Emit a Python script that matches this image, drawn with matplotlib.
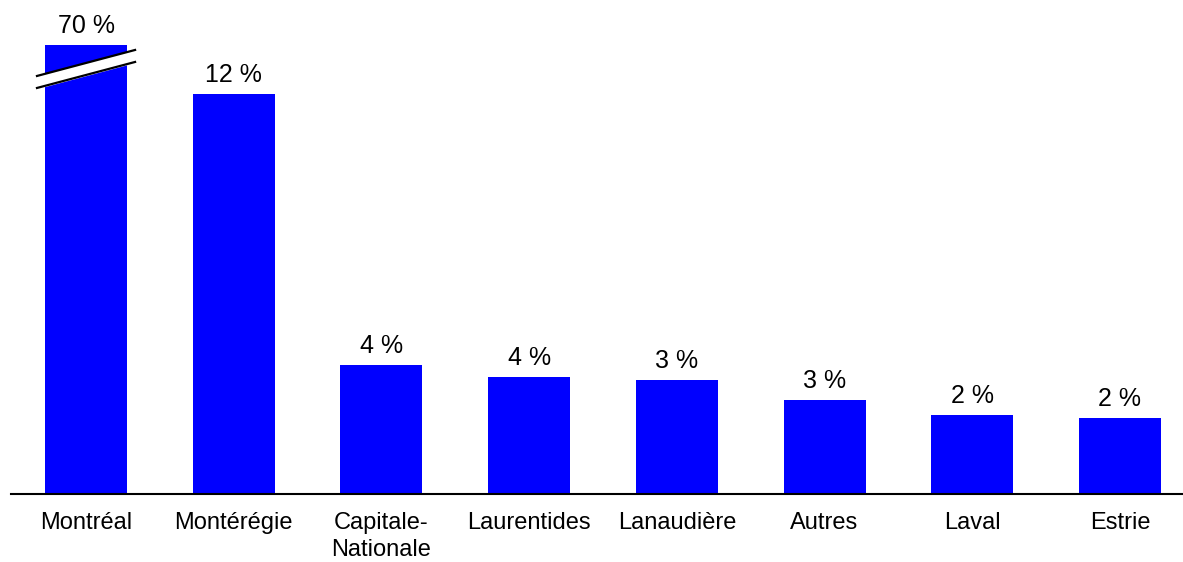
import numpy as np
import matplotlib.pyplot as plt

# Regions and share of total (bar heights, labels as printed)
regions = ["Montréal", "Montérégie", "Capitale-\nNationale", "Laurentides",
           "Lanaudière", "Autres", "Laval", "Estrie"]
shares = [70, 12.0, 3.87, 3.51, 3.42, 2.82, 2.37, 2.28]
share_labels = ["70 %", "12 %", "4 %", "4 %", "3 %", "3 %", "2 %", "2 %"]

plt.rcParams['font.family'] = ['Liberation Sans', 'DejaVu Sans']

fig = plt.figure(figsize=(11.83, 5.62), dpi=100)
ax = fig.add_axes([0.0093, 0.121, 0.9907, 0.799])

x = np.arange(len(regions))
ymax = 13.47  # axis cut, the Montréal bar is broken above it
ax.bar(x, shares, width=0.555, color="#0000FF", zorder=2)
ax.set_xlim(-0.508, 7.427)
ax.set_ylim(0, ymax)

#Value labels above bars
for xi, v, lab in zip(x, shares, share_labels):
    ax.annotate(lab, (xi, min(v, ymax)), xytext=(0, 5), textcoords="offset points",
                ha="center", va="bottom", fontsize=18, annotation_clip=False)

#Break marker on the Montréal bar
bx = np.array([-0.332, 0.332])
upper = np.array([12.54, 13.32])
lower = np.array([12.18, 12.96])
ax.fill_between(bx, lower, upper, color="white", zorder=3, clip_on=False)
ax.plot(bx, upper, color="black", lw=1.6, zorder=4, clip_on=False)
ax.plot(bx, lower, color="black", lw=1.6, zorder=4, clip_on=False)

ax.set_xticks(x)
ax.set_xticklabels(regions, fontsize=17, linespacing=1.3)
ax.tick_params(axis="x", length=0, pad=13)
ax.set_yticks([])
for s in ["top", "right", "left"]:
    ax.spines[s].set_visible(False)
ax.spines["bottom"].set_linewidth(1.5)

fig.savefig("out.png", dpi=100)
